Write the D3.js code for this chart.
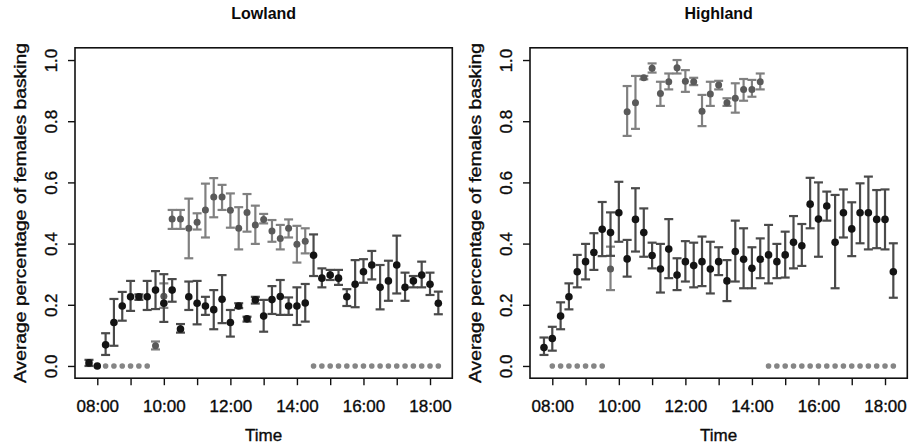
<!DOCTYPE html>
<html lang="en">
<head>
<meta charset="UTF-8">
<title>Basking - Lowland / Highland</title>
<script src="https://d3js.org/d3.v7.min.js"></script>
<style>
    body { margin: 0; background: #fff; }
    text { font-family: "Liberation Sans", Arial, sans-serif; fill: #0a0a0a; }
    .title { font-weight: bold; font-size: 16px; }
    .tick text { font-size: 17px; stroke: #0a0a0a; stroke-width: 0.35px; }
    .axis_label { font-size: 17px; stroke: #0a0a0a; stroke-width: 0.35px; }
</style>
</head>
<body>
<svg width="911" height="444"></svg>
<script>
    // 15 minute slots
    const times = ["07:45","08:00","08:15","08:30","08:45","09:00","09:15","09:30","09:45",
        "10:00","10:15","10:30","10:45","11:00","11:15","11:30","11:45",
        "12:00","12:15","12:30","12:45","13:00","13:15","13:30","13:45",
        "14:00","14:15","14:30","14:45","15:00","15:15","15:30","15:45",
        "16:00","16:15","16:30","16:45","17:00","17:15","17:30","17:45","18:00","18:15"];

    // Lowland, dark series (mean, lower, upper)
    const lowMean = [0.01,0.00,0.069,0.142,0.196,0.226,0.226,0.226,0.248,
        0.205,0.248,0.121,0.226,0.205,0.196,0.184,0.218,
        0.142,0.196,0.154,0.216,0.163,0.217,0.227,0.196,
        0.196,0.206,0.362,0.287,0.297,0.287,0.226,0.267,
        0.308,0.330,0.257,0.278,0.330,0.257,0.278,0.297,0.267,0.205];
    const lowLo = [0.00,null,0.036,0.066,0.148,0.18,0.216,0.183,0.186,
        0.144,0.21,0.109,0.183,0.136,0.167,0.12,0.14,
        0.096,0.189,0.145,0.204,0.112,0.17,0.167,0.167,
        0.134,0.145,0.294,0.257,0.281,0.265,0.196,0.192,
        0.272,0.283,0.185,0.213,0.237,0.213,0.257,0.257,0.232,0.169];
    const lowHi = [0.02,null,0.107,0.219,0.242,0.278,0.234,0.278,0.31,
        0.30,0.284,0.137,0.276,0.278,0.226,0.248,0.297,
        0.183,0.205,0.161,0.226,0.216,0.261,0.281,0.224,
        0.257,0.268,0.43,0.319,0.314,0.314,0.251,0.346,
        0.349,0.376,0.33,0.344,0.426,0.305,0.294,0.341,0.305,0.243];

    // Lowland, grey series
    const lowGreyTimes = ["09:45","10:00","10:15","10:30","10:45","11:00","11:15","11:30","11:45",
        "12:00","12:15","12:30","12:45","13:00","13:15","13:30","13:45","14:00","14:15"];
    const lowGreyMean = [0.066,0.228,0.48,0.48,0.45,0.47,0.51,0.552,0.552,
        0.509,0.45,0.502,0.461,0.479,0.441,0.417,0.45,0.398,0.408];
    const lowGreyLo = [0.054,0.19,0.448,0.448,0.352,0.446,0.42,0.486,0.51,
        0.452,0.381,0.439,0.399,0.466,0.406,0.381,0.42,0.338,0.368];
    const lowGreyHi = [0.080,0.27,0.51,0.51,0.547,0.499,0.596,0.614,0.592,
        0.564,0.519,0.562,0.524,0.497,0.477,0.461,0.479,0.458,0.45];

    // Highland, dark series
    const highMean = [0.06,0.09,0.163,0.226,0.308,0.341,0.371,0.447,0.436,
        0.501,0.35,0.479,0.436,0.361,0.317,0.382,0.297,
        0.341,0.328,0.341,0.317,0.341,0.278,0.374,0.349,
        0.319,0.349,0.363,0.341,0.363,0.404,0.393,0.529,
        0.48,0.523,0.404,0.501,0.448,0.501,0.501,0.479,0.479,0.308];
    const highLo = [0.036,0.05,0.12,0.185,0.257,0.283,0.314,0.359,0.36,
        0.406,0.292,0.374,0.357,0.319,0.24,0.287,0.248,
        0.276,0.257,0.261,0.237,0.297,0.212,0.276,0.254,
        0.254,0.287,0.27,0.287,0.289,0.319,0.327,0.45,
        0.357,0.475,0.254,0.42,0.359,0.401,0.381,0.385,0.381,0.223];
    const highHi = [0.093,0.128,0.208,0.27,0.363,0.399,0.434,0.536,0.502,
        0.602,0.412,0.581,0.515,0.403,0.399,0.48,0.352,
        0.408,0.403,0.423,0.406,0.388,0.346,0.475,0.45,
        0.388,0.417,0.461,0.399,0.439,0.49,0.464,0.615,
        0.6,0.57,0.559,0.577,0.535,0.597,0.619,0.575,0.577,0.401];

    // Highland, grey series
    const highGreyTimes = ["09:45","10:15","10:30","10:45","11:00","11:15","11:30","11:45",
        "12:00","12:15","12:30","12:45","13:00","13:15","13:30","13:45","14:00","14:15"];
    const highGreyMean = [0.317,0.831,0.86,0.942,0.973,0.891,0.929,0.975,
        0.931,0.929,0.833,0.889,0.918,0.86,0.875,0.904,0.904,0.929];
    const highGreyLo = [0.248,0.752,0.775,0.937,0.959,0.85,0.904,0.956,
        0.896,0.918,0.784,0.85,0.904,0.85,0.828,0.867,0.88,0.904];
    const highGreyHi = [0.39,0.915,0.948,0.948,0.989,0.929,0.956,1.0,
        0.967,0.942,0.886,0.929,0.932,0.875,0.924,0.938,0.935,0.956];

    // grey series recorded as zero
    const zeroTimes = ["08:00","08:15","08:30","08:45","09:00","09:15","09:30",
        "14:30","14:45","15:00","15:15","15:30","15:45","16:00","16:15",
        "16:30","16:45","17:00","17:15","17:30","17:45","18:00","18:15"];

    const xTicks = ["08:00","09:00","10:00","11:00","12:00","13:00","14:00","15:00","16:00","17:00","18:00"];
    const xLabels = ["08:00","10:00","12:00","14:00","16:00","18:00"];
    const yTicks = [0, 0.2, 0.4, 0.6, 0.8, 1.0];

    function hours(s) {
        let p = s.split(":");
        return +p[0] + (+p[1]) / 60;
    }

    function zip(t, m, lo, hi) {
        return t.map(function (d, i) {
            return {t: hours(d), m: m[i], lo: lo[i], hi: hi[i]};
        }).filter(function (d) { return d.m !== null; });
    }

    const svg = d3.select("svg");
    const boxW = 377.3, boxH = 330.4, boxTop = 47.8;

    function drawPanel(left, title, dark, grey) {
        let g = svg.append("g").attr("transform", "translate(" + left + "," + boxTop + ")");

        // R style: 4% padding on both ends of the data range
        let tr = d3.extent(times, hours);
        let pad = (tr[1] - tr[0]) * 0.04;
        let x = d3.scaleLinear().domain([tr[0] - pad, tr[1] + pad]).range([0, boxW]);
        let y = d3.scaleLinear().domain([-0.04, 1.04]).range([boxH, 0]);

        g.append("rect")
            .attr("width", boxW).attr("height", boxH)
            .attr("fill", "none").attr("stroke", "#111").attr("stroke-width", 1.6);

        // y axis
        let ya = g.append("g").call(d3.axisLeft(y).tickValues(yTicks).tickSize(7)
            .tickFormat(d3.format(".1f")));
        ya.select(".domain").remove();
        ya.selectAll(".tick line").attr("stroke", "#111").attr("stroke-width", 1.4);
        ya.selectAll(".tick text")
            .attr("x", 0).attr("y", -18).attr("dy", null)
            .attr("text-anchor", "middle")
            .attr("transform", "rotate(-90)");

        // x axis, ticks each hour, label every 2 h
        let xa = g.append("g").attr("transform", "translate(0," + boxH + ")")
            .call(d3.axisBottom(x).tickValues(xTicks.map(hours)).tickSize(7)
                .tickFormat(function (d) {
                    let s = d3.format("02d")(d) + ":00";
                    return xLabels.indexOf(s) >= 0 ? s : "";
                }));
        xa.select(".domain").remove();
        xa.selectAll(".tick line").attr("stroke", "#111").attr("stroke-width", 1.4);
        xa.selectAll(".tick text").attr("y", 22).attr("dy", "0.71em");

        svg.append("text").attr("class", "title")
            .attr("x", left + boxW / 2).attr("y", 19)
            .attr("text-anchor", "middle").text(title);

        svg.append("text").attr("class", "axis_label")
            .attr("x", left + boxW / 2).attr("y", 441)
            .attr("text-anchor", "middle").text("Time");

        svg.append("text").attr("class", "axis_label")
            .attr("transform", "translate(" + (left - 49) + "," + (boxTop + y(0.5)) + ") rotate(-90)")
            .attr("text-anchor", "middle")
            .attr("textLength", 340).attr("lengthAdjust", "spacingAndGlyphs")
            .text("Average percentage of females basking");

        // zero markers
        g.selectAll(".zero").data(zeroTimes).enter().append("circle")
            .attr("cx", function (d) { return x(hours(d)); })
            .attr("cy", y(0)).attr("r", 2.8).attr("fill", "#858585");

        function series(data, barCol, dotCol, r) {
            let s = g.append("g");
            let bars = data.filter(function (d) { return d.lo !== null; });
            s.selectAll(".v").data(bars).enter().append("line")
                .attr("x1", function (d) { return x(d.t); })
                .attr("x2", function (d) { return x(d.t); })
                .attr("y1", function (d) { return y(d.lo); })
                .attr("y2", function (d) { return y(d.hi); })
                .attr("stroke", barCol).attr("stroke-width", 2.2);
            ["lo", "hi"].forEach(function (k) {
                s.selectAll(".c" + k).data(bars).enter().append("line")
                    .attr("x1", function (d) { return x(d.t) - 4.5; })
                    .attr("x2", function (d) { return x(d.t) + 4.5; })
                    .attr("y1", function (d) { return y(d[k]); })
                    .attr("y2", function (d) { return y(d[k]); })
                    .attr("stroke", barCol).attr("stroke-width", 2.2);
            });
            s.selectAll("circle").data(data).enter().append("circle")
                .attr("cx", function (d) { return x(d.t); })
                .attr("cy", function (d) { return y(d.m); })
                .attr("r", r).attr("fill", dotCol);
        }

        series(grey, "#808080", "#5a5a5a", 3.5);
        series(dark, "#4a4a4a", "#141414", 3.8);
    }

    drawPanel(75, "Lowland",
        zip(times, lowMean, lowLo, lowHi),
        zip(lowGreyTimes, lowGreyMean, lowGreyLo, lowGreyHi));
    drawPanel(530, "Highland",
        zip(times, highMean, highLo, highHi),
        zip(highGreyTimes, highGreyMean, highGreyLo, highGreyHi));
</script>
</body>
</html>
